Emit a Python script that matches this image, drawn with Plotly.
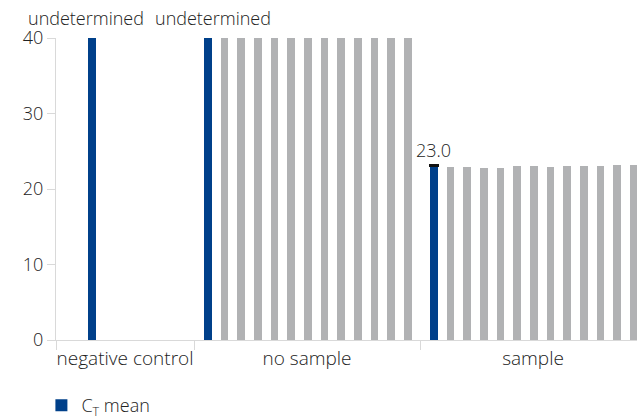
import plotly.graph_objects as go

# ---- data -------------------------------------------------------------
groups = ["negative control", "no sample", "sample"]
ct_mean = [None, None, 23.0]          # None = undetermined
replicates_no_sample = [None] * 12    # all wells undetermined
replicates_sample = [22.9, 22.9, 22.8, 22.8, 23.1, 23.1,
                     22.9, 23.1, 23.1, 23.1, 23.2, 23.2]
replicates = [[], replicates_no_sample, replicates_sample]
ct_mean_spread = [None, None, 0.15]
y_ticks = [0, 10, 20, 30, 40]

# ---- layout constants ---------------------------------------------------
CT_MAX = 40                        # undetermined wells are drawn at the cycle limit
GROUP_SPAN = [8.28, 13.56, 13.56]  # width of each group, in bar pitches
MEAN_LEAD = [2.17, 0.83, 0.83]     # offset of the mean bar inside its group
BAR_W = 0.46
BLUE = "#00408a"
GREY = "#b1b2b4"
AXIS = "#d9d9d9"
TEXT = "#222222"
FONT = "Open Sans"
FS = 18
W = 300

edges = [0.0]
for span in GROUP_SPAN:
    edges.append(edges[-1] + span)
centers = [(a + b) / 2 for a, b in zip(edges[:-1], edges[1:])]

mean_x, mean_y, mean_txt = [], [], []
rep_x, rep_y = [], []
for g, start in enumerate(edges[:-1]):
    xm = start + MEAN_LEAD[g]
    mean_x.append(xm)
    mean_y.append(CT_MAX if ct_mean[g] is None else ct_mean[g])
    mean_txt.append("undetermined" if ct_mean[g] is None else f"{ct_mean[g]:.1f}")
    for k, v in enumerate(replicates[g]):
        rep_x.append(xm + 1 + k)
        rep_y.append(CT_MAX if v is None else v)

det = [i for i, v in enumerate(ct_mean) if v is not None]
undet = [i for i, v in enumerate(ct_mean) if v is None]

fig = go.Figure()
fig.add_trace(go.Bar(
    x=rep_x, y=rep_y, width=BAR_W, marker=dict(color=GREY, line=dict(width=0)),
    name="replicates", showlegend=False, hoverinfo="skip",
))
fig.add_trace(go.Bar(
    x=[mean_x[i] for i in det], y=[mean_y[i] for i in det], width=BAR_W,
    marker=dict(color=BLUE, line=dict(width=0)),
    name="C<sub>T</sub> mean", legendgroup="mean",
    error_y=dict(type="data", array=[ct_mean_spread[i] for i in det],
                 arrayminus=[0 for _ in det], symmetric=False,
                 color="#111111", thickness=2, width=5),
))
fig.add_trace(go.Bar(
    x=[mean_x[i] for i in undet], y=[mean_y[i] for i in undet], width=BAR_W,
    marker=dict(color=BLUE, line=dict(width=0)),
    name="C<sub>T</sub> mean", legendgroup="mean", showlegend=False,
))

label_shift = [-6, 5, 0]
label_lift = [6, 6, 2]
for g in range(len(groups)):
    fig.add_annotation(
        x=mean_x[g], y=mean_y[g], text=mean_txt[g], showarrow=False,
        yanchor="bottom", xanchor="center", xshift=label_shift[g], yshift=label_lift[g],
        font=dict(family=FONT, size=FS, color=TEXT, weight=W),
    )

fig.update_layout(
    width=637, height=419,
    margin=dict(l=56, r=0, t=38, b=79, autoexpand=False),
    paper_bgcolor="white", plot_bgcolor="white",
    barmode="overlay", bargap=0,
    font=dict(family=FONT, size=FS, color=TEXT, weight=W),
    showlegend=True,
    legend=dict(orientation="h", xref="container", yref="container",
                x=0.065, xanchor="left", y=0.032, yanchor="middle",
                font=dict(family=FONT, size=FS, color=TEXT, weight=W),
                itemwidth=30, bgcolor="rgba(0,0,0,0)"),
    xaxis=dict(
        range=[0, 34.86], showgrid=False, zeroline=False,
        showline=True, linecolor=AXIS, linewidth=1,
        tickmode="array", tickvals=centers, ticktext=groups, ticks="",
        ticklabelstandoff=1,
        tickfont=dict(family=FONT, size=19, color=TEXT, weight=W),
        minor=dict(tickmode="array", tickvals=edges[:-1], ticks="outside",
                   ticklen=9, tickcolor=AXIS, tickwidth=1, showgrid=False),
    ),
    yaxis=dict(
        range=[0, CT_MAX], showgrid=False, zeroline=False,
        showline=True, linecolor=AXIS, linewidth=1,
        tickmode="array", tickvals=y_ticks, ticks="outside", ticklen=8,
        tickcolor=AXIS, tickfont=dict(family=FONT, size=FS, color=TEXT, weight=W),
    ),
)

fig.write_html("out.html")
